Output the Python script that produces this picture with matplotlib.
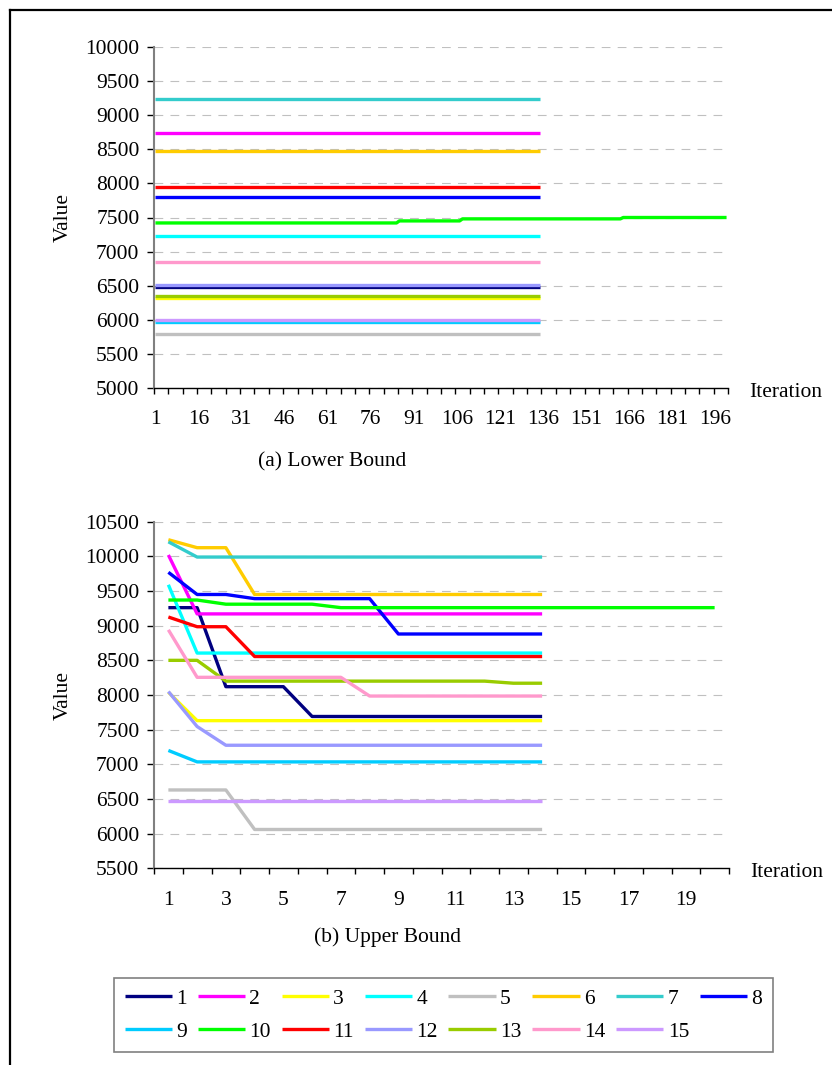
import matplotlib
matplotlib.use("Agg")
import matplotlib.pyplot as plt
from matplotlib.lines import Line2D

plt.rcParams['font.family'] = ['Liberation Serif', 'DejaVu Serif']
plt.rcParams['lines.scale_dashes'] = False

# series names and colours (Excel default line palette)
names = [str(i) for i in range(1, 16)]
colors = ['#000080', '#FF00FF', '#FFFF00', '#00FFFF', '#C0C0C0',
          '#FFCC00', '#33CCCC', '#0000FF', '#00CCFF', '#00FF00',
          '#FF0000', '#9999FF', '#99CC00', '#FF99CC', '#CC99FF']

# (a) lower bound: flat values for 135 iterations, series 10 runs for 200
lb_len = 135
lb_flat = [6476, 8743, 6315, 7233, 5796, 8475, 9237, 7805,
           5963, None, 7943, 6515, 6349, 6843, 5997]
lb_10 = [7420] * 85 + [7450] * 22 + [7480] * 56 + [7500] * 37

# (b) upper bound: 14 iterations, series 10 runs for 20
ub = [
    [9260, 9260, 8120, 8120, 8120] + [7690] * 9,
    [10020] + [9170] * 13,
    [8040] + [7630] * 13,
    [9590] + [8605] * 13,
    [6630, 6630, 6630] + [6060] * 11,
    [10240, 10125, 10125] + [9450] * 11,
    [10210] + [9990] * 13,
    [9770, 9450, 9450, 9390, 9390, 9390, 9390, 9390] + [8880] * 6,
    [7200] + [7035] * 13,
    [9370, 9370, 9310, 9310, 9310, 9310] + [9260] * 14,
    [9125, 8985, 8985] + [8555] * 11,
    [8050, 7545] + [7275] * 12,
    [8500, 8500] + [8200] * 10 + [8170] * 2,
    [8940] + [8255] * 6 + [7985] * 7,
    [6470] * 14,
]

W, H = 832, 1065
fig = plt.figure(figsize=(W / 100, H / 100), dpi=100)

# page frame (left and top edges)
fig.add_artist(Line2D([10 / W, 10 / W], [0, 1 - 10 / H], color='black', lw=1.6))
fig.add_artist(Line2D([10 / W, 1], [1 - 10 / H, 1 - 10 / H], color='black', lw=1.6))

FS = 15.5
LW = 2.4


def style_axes(ax, xmax, ymin, ymax, label_step):
    ax.set_xlim(0.5, xmax + 0.5)
    ax.set_ylim(ymin, ymax)
    ax.set_yticks(range(ymin, ymax + 1, 500))
    ax.set_xticks(range(1, xmax + 1, label_step))
    ax.set_xticks([x + 0.5 for x in range(0, xmax + 1, 1 if xmax <= 20 else 5)], minor=True)
    ax.tick_params(axis='x', which='major', length=0, pad=16, labelsize=FS)
    ax.tick_params(axis='x', which='minor', length=4, width=1, direction='out')
    ax.tick_params(axis='y', length=5, width=1, pad=5.5, labelsize=FS)
    for s in ('top', 'right'):
        ax.spines[s].set_visible(False)
    ax.spines['left'].set_color('#808080')
    ax.spines['left'].set_linewidth(1.5)
    ax.spines['bottom'].set_linewidth(1.0)
    ax.yaxis.grid(True, color='#C0C0C0', lw=0.8, linestyle=(0, (6.3, 5.2)))
    ax.set_axisbelow(True)
    ax.set_ylabel('Value', fontsize=FS)
    ax.yaxis.set_label_coords(-0.142, 0.5)
    ax.text(1.1, -0.012, 'Iteration', transform=ax.transAxes, ha='center',
            va='center', fontsize=FS)


# top chart
ax1 = fig.add_axes([154 / W, 1 - 388 / H, 574 / W, 341 / H])
lines = []
for i in range(15):
    ys = lb_10 if lb_flat[i] is None else [lb_flat[i]] * lb_len
    ln, = ax1.plot(range(1, len(ys) + 1), ys, color=colors[i], lw=LW,
                   solid_capstyle='butt', zorder=3)
    lines.append(ln)
style_axes(ax1, 200, 5000, 10000, 15)
fig.text(332 / W, 1 - 462 / H, '(a) Lower Bound', ha='center', va='center', fontsize=FS)

# bottom chart
ax2 = fig.add_axes([154 / W, 1 - 868.3 / H, 575 / W, 346.6 / H])
for i in range(15):
    ax2.plot(range(1, len(ub[i]) + 1), ub[i], color=colors[i], lw=LW,
             solid_capstyle='butt', zorder=3)
style_axes(ax2, 20, 5500, 10500, 2)
fig.text(388 / W, 1 - 937 / H, '(b) Upper Bound', ha='center', va='center', fontsize=FS)

# legend in row-major order (2 rows x 8 columns)
order = [0, 8, 1, 9, 2, 10, 3, 11, 4, 12, 5, 13, 6, 14, 7]
leg = fig.legend([lines[k] for k in order], [names[k] for k in order],
                 ncol=8, loc='center', bbox_to_anchor=(443.5 / W, 1 - 1015 / H),
                 fontsize=FS, frameon=True, fancybox=False, edgecolor='#808080',
                 framealpha=1, handlelength=2.2, handletextpad=0.2,
                 columnspacing=0.5, labelspacing=0.6, borderpad=0.5)
leg.get_frame().set_linewidth(1.2)

fig.savefig('out.png', dpi=100)
